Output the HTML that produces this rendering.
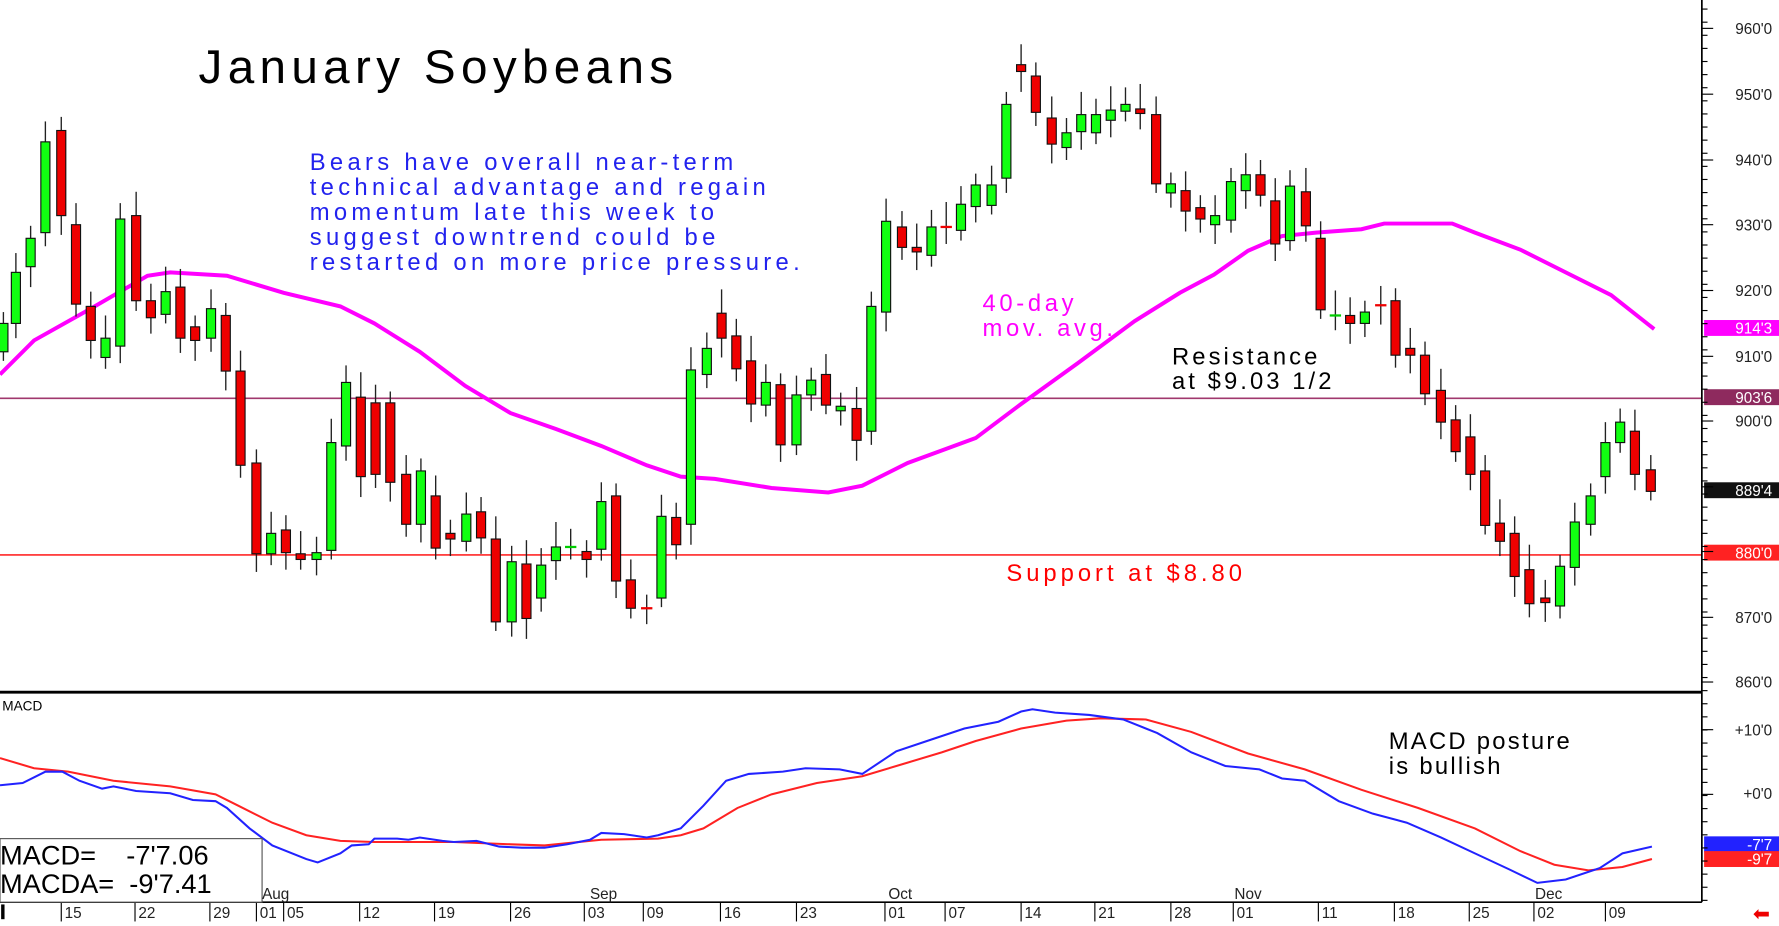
<!DOCTYPE html>
<html><head><meta charset="utf-8"><style>
html,body{margin:0;padding:0;background:#fff;}
svg{display:block}
.nar{font-family:"Liberation Sans Narrow","Liberation Sans",sans-serif;}
</style></head><body>
<svg id="s" width="1779" height="926" viewBox="0 0 1568 816" preserveAspectRatio="none" xmlns="http://www.w3.org/2000/svg">
<rect width="1568" height="816" fill="#fff"/>
<g id="ax"></g>
<line x1="0" y1="351" x2="1500" y2="351" stroke="#a0386e" stroke-width="1.5"/>
<line x1="0" y1="489" x2="1500" y2="489" stroke="#f00" stroke-width="1.2"/>
<polyline fill="none" stroke="#f0f" stroke-width="3.5" points="0,330 30,300 80,272 130,243 150,240 200,243 250,258 300,270 330,285 370,310 410,340 450,364 490,378 530,393 570,410 600,420 630,422 680,430 730,434 760,428 800,408 830,397 860,386 900,356 950,320 1000,283 1040,258 1070,242 1100,221 1130,208 1160,205 1200,202 1220,197 1280,197 1300,205 1340,220 1380,240 1420,260 1458,290"/>
<g id="c"></g>
<line x1="0" y1="610" x2="1500" y2="610" stroke="#000" stroke-width="2.5"/>
<polyline fill="none" stroke="#f22" stroke-width="1.8" points="0,668 30,677 60,680 100,688 150,693 190,700 210,710 240,725 270,736 300,741 330,742 400,742 450,744 480,745 530,740 580,739 600,736 620,730 650,712 680,700 720,690 760,684 800,672 830,663 860,653 900,642 940,635 970,633 1010,634 1050,645 1100,664 1150,678 1200,696 1250,712 1300,730 1340,750 1370,762 1400,767 1430,764 1456,757"/>
<polyline fill="none" stroke="#22f" stroke-width="1.8" points="0,692 20,690 40,680 55,680 70,688 90,695 100,693 120,697 150,699 170,705 190,706 200,712 220,730 240,745 270,757 280,760 300,752 310,745 325,744 330,739 350,739 360,740 370,738 390,741 400,742 420,741 440,746 460,747 480,747 500,744 520,740 530,734 550,735 570,738 580,736 600,730 620,710 640,688 660,682 690,680 710,677 740,678 760,682 790,662 820,652 850,642 880,636 900,627 910,625 930,628 960,630 990,634 1020,646 1050,663 1080,675 1110,678 1130,686 1150,688 1180,706 1210,717 1240,725 1270,738 1300,752 1330,766 1355,778 1380,775 1410,765 1430,752 1456,746"/>
<line x1="1500" y1="0" x2="1500" y2="795" stroke="#000" stroke-width="1.5"/>
<line x1="0" y1="795" x2="1500" y2="795" stroke="#000" stroke-width="1.5"/>
<text x="175" y="73" class="nar" font-size="42" letter-spacing="4.7" fill="#000">January Soybeans</text>
<g class="nar" font-size="21" letter-spacing="3.8" fill="#2222ee">
<text x="273" y="150">Bears have overall near-term</text>
<text x="273" y="172">technical advantage and regain</text>
<text x="273" y="194">momentum late this week to</text>
<text x="273" y="216">suggest downtrend could be</text>
<text x="273" y="238">restarted on more price pressure.</text>
</g>
<g class="nar" font-size="21" letter-spacing="3.2" fill="#f0f"><text x="866" y="274">40-day</text><text x="866" y="296">mov. avg.</text></g>
<g class="nar" font-size="21" letter-spacing="2.7" fill="#000"><text x="1033" y="321">Resistance</text><text x="1033" y="343">at $9.03 1/2</text></g>
<text x="887" y="512" class="nar" font-size="21" letter-spacing="3.5" fill="#f00">Support at $8.80</text>
<g class="nar" font-size="21" letter-spacing="2" fill="#000"><text x="1224" y="660">MACD posture</text><text x="1224" y="682">is bullish</text></g>
<text x="2" y="626" class="nar" font-size="12" fill="#000">MACD</text>
<rect x="0" y="739" width="231" height="56" fill="#fff" stroke="#555"/>
<g class="nar" font-size="24" fill="#000"><text x="0" y="762">MACD=&#160;&#160;&#160;&#160;-7'7.06</text><text x="0" y="787">MACDA=&#160;&#160;-9'7.41</text></g>
<g id="lab" class="nar" font-size="13.5" fill="#222"></g>
<text x="1545" y="811" font-size="18" fill="#e00" font-family="DejaVu Sans,sans-serif">⬅</text>
</svg>
<script>
var NS="http://www.w3.org/2000/svg";
function el(p,t,a,txt){var e=document.createElementNS(NS,t);for(var k in a)e.setAttribute(k,a[k]);if(txt)e.textContent=txt;document.getElementById(p).appendChild(e);return e;}
var d=[[3,'g',285,310],[14,'g',240,285],[27,'g',210,235],[40,'g',125,205],[54,'r',115,190],[67,'r',198,268],[80,'r',270,300],[93,'g',298,315],[106,'g',193,305],[120,'r',190,265],[133,'r',265,280],[146,'g',257,277],[159,'r',253,298],[172,'r',288,300],[186,'g',272,298],[199,'r',278,327],[212,'r',327,410],[226,'r',408,488],[239,'g',470,488],[252,'r',467,487],[265,'r',488,493],[279,'g',487,493],[292,'g',390,485],[305,'g',337,393],[318,'r',350,420],[331,'r',355,418],[344,'r',355,425],[358,'r',418,462],[371,'g',415,462],[384,'r',437,483],[397,'r',470,475],[411,'g',453,477],[424,'r',451,474],[437,'r',475,548],[451,'g',495,548],[464,'r',497,545],[477,'g',498,527],[490,'g',482,494],[503,'x',482,482],[517,'r',486,493],[530,'g',442,484],[543,'r',437,512],[556,'r',511,536],[570,'xr',536,536],[583,'g',455,527],[596,'r',456,480],[609,'g',326,462],[623,'g',307,330],[636,'r',276,298],[649,'r',296,325],[662,'r',318,356],[675,'g',337,357],[688,'r',339,392],[702,'g',348,392],[715,'g',335,348],[728,'r',330,357],[741,'g',358,362],[755,'r',360,388],[768,'g',270,380],[781,'g',195,275],[795,'r',200,218],[808,'r',218,222],[821,'g',200,225],[834,'xr',200,200],[847,'g',180,203],[860,'g',163,182],[874,'g',163,181],[887,'g',92,157],[900,'r',57,63],[913,'r',67,99],[927,'r',104,127],[940,'g',117,130],[953,'g',101,116],[966,'g',101,117],[979,'g',97,106],[992,'g',92,98],[1005,'r',96,100],[1019,'r',101,162],[1032,'g',162,170],[1045,'r',168,186],[1058,'r',183,193],[1071,'g',190,198],[1085,'g',160,194],[1098,'g',154,168],[1111,'r',154,172],[1124,'r',177,215],[1137,'g',164,212],[1151,'r',169,199],[1164,'r',210,273],[1177,'x',278,278],[1190,'r',278,285],[1203,'g',275,285],[1217,'xr',269,269],[1230,'r',265,313],[1243,'r',307,313],[1256,'r',313,347],[1270,'r',344,372],[1283,'r',370,398],[1296,'r',385,418],[1309,'r',415,463],[1322,'r',461,477],[1335,'r',470,508],[1348,'r',502,532],[1362,'r',527,531],[1375,'g',499,534],[1388,'g',460,500],[1402,'g',437,462],[1415,'g',390,420],[1428,'g',372,390],[1441,'r',380,418],[1455,'r',414,433]];
d.forEach(function(c,i){var x=c[0],t=c[1],a=c[2],b=c[3];var h=10+((i*7)%13),l=8+((i*5)%11);
el('c','line',{x1:x,x2:x,y1:a-h,y2:b+l,stroke:'#222','stroke-width':1.2});
if(t[0]=='x'){el('c','line',{x1:x-5,x2:x+5,y1:a,y2:a,stroke:t=='x'?'#0c0':'#e00','stroke-width':2});}
else el('c','rect',{x:x-4,y:a,width:8,height:Math.max(3,b-a),fill:t=='g'?'#1f1':'#e00',stroke:'#111','stroke-width':1});});
var pl=[[960,25],[950,83],[940,141],[930,198],[920,256],[910,314],[900,371],[870,544],[860,601]];
pl.forEach(function(p){el('lab','text',{x:1562,y:p[1]+5,'text-anchor':'end'},p[0]+"'0");});
el('lab','text',{x:1562,y:648,'text-anchor':'end'},"+10'0");
el('lab','text',{x:1562,y:704,'text-anchor':'end'},"+0'0");
[[914.3,289,'#f0f',"914'3"],[903.6,350,'#8e2a5e',"903'6"],[889.4,432,'#111',"889'4"],[880,487,'#f22',"880'0"],[0,744,'#22f',"-7'7"],[0,757,'#f22',"-9'7"]].forEach(function(b){
el('ax','rect',{x:1502,y:b[1]-7,width:66,height:14,fill:b[2]});
el('lab','text',{x:1562,y:b[1]+5,'text-anchor':'end',fill:'#fff'},b[3]);});
for(var y=8;y<795;y+=11.55){el('ax','line',{x1:1500,x2:1505,y1:y,y2:y,stroke:'#000'});}
[25,83,141,198,256,314,371,429,486,544,601,643,700].forEach(function(y){el('ax','line',{x1:1500,x2:1510,y1:y,y2:y,stroke:'#000'});});
var dt=[[57,'15'],[122,'22'],[188,'29'],[229,'01'],[253,'05'],[320,'12'],[386,'19'],[453,'26'],[518,'03'],[570,'09'],[638,'16'],[705,'23'],[783,'01'],[836,'07'],[903,'14'],[968,'21'],[1035,'28'],[1090,'01'],[1165,'11'],[1232,'18'],[1298,'25'],[1355,'02'],[1418,'09']];
dt.forEach(function(q){el('ax','line',{x1:q[0]-3,x2:q[0]-3,y1:795,y2:812,stroke:'#000'});el('lab','text',{x:q[0],y:809},q[1]);});
[[231,'Aug'],[520,'Sep'],[783,'Oct'],[1088,'Nov'],[1353,'Dec']].forEach(function(q){el('lab','text',{x:q[0],y:792},q[1]);});
el('ax','rect',{x:1,y:797,width:3,height:13,fill:'#000'});
</script>
</body></html>
